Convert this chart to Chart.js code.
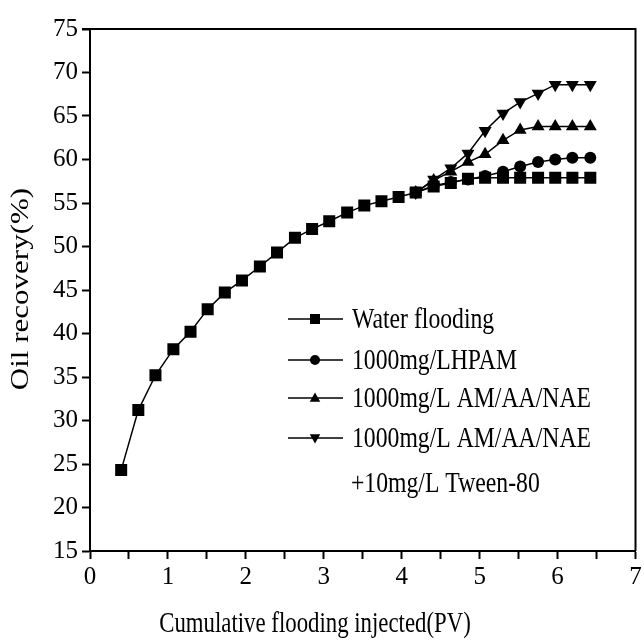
<!DOCTYPE html>
<html>
<head>
<meta charset="utf-8">
<script src="https://cdn.jsdelivr.net/npm/chart.js@4.4.1/dist/chart.umd.min.js"></script>
<style>
  html, body { margin: 0; padding: 0; background: #fff; }
  #wrap { width: 644px; height: 641px; }
</style>
</head>
<body>
<div id="wrap"><canvas id="recoveryChart"></canvas></div>
<script>
// injected pore volumes (PV)
const pv = [0.40, 0.62, 0.84, 1.07, 1.29, 1.51, 1.73, 1.95, 2.18, 2.40,
            2.63, 2.85, 3.07, 3.30, 3.52, 3.74, 3.96, 4.18, 4.41, 4.63,
            4.85, 5.07, 5.30, 5.52, 5.75, 5.97, 6.19, 6.42];

// oil recovery (%)
const water = [24.3, 31.2, 35.2, 38.2, 40.2, 42.8, 44.7, 46.1, 47.7, 49.3,
               51.0, 52.0, 52.9, 53.9, 54.7, 55.2, 55.7, 56.2, 56.9, 57.3,
               57.8, 57.9, 57.9, 57.9, 57.9, 57.9, 57.9, 57.9];
// the chemical slugs branch off the water curve at pv[17]
const slugStart = 17;
const hpam  = [56.2, 57.0, 57.4, 57.7, 58.1, 58.6, 59.2, 59.7, 60.0, 60.2, 60.2];
const nae   = [56.2, 57.6, 58.6, 59.7, 60.6, 62.2, 63.4, 63.8, 63.8, 63.8, 63.8];
const tween = [56.2, 57.7, 59.0, 60.7, 63.3, 65.3, 66.6, 67.6, 68.6, 68.6, 68.6];

const seriesNames = ['Water flooding', '1000mg/LHPAM', '1000mg/L AM/AA/NAE', '1000mg/L AM/AA/NAE'];
const legendExtra = '+10mg/L Tween-80';
const xTitle = 'Cumulative flooding injected(PV)';
const yTitle = 'Oil recovery(%)';

const toPts = (ys, from) => ys.map((y, i) => ({ x: pv[from + i], y }));

const serif = "'Liberation Serif', 'Times New Roman', serif";

function squeezed(ctx, text, x, y, sx, align) {
  ctx.save();
  ctx.translate(x, y);
  ctx.scale(sx, 1);
  ctx.textAlign = align;
  ctx.fillText(text, 0, 0);
  ctx.restore();
}

function marker(ctx, style, rot, x, y, r) {
  ctx.beginPath();
  if (style === 'rect') {
    ctx.rect(x - r, y - r, 2 * r, 2 * r);
  } else if (style === 'circle') {
    ctx.arc(x, y, r, 0, Math.PI * 2);
  } else {
    const s = rot ? -1 : 1;
    ctx.moveTo(x, y - s * r * 1.1);
    ctx.lineTo(x + r * 1.05, y + s * r * 0.75);
    ctx.lineTo(x - r * 1.05, y + s * r * 0.75);
    ctx.closePath();
  }
  ctx.fill();
}

const decor = {
  id: 'decor',
  afterDraw(chart) {
    const { ctx, chartArea: a } = chart;
    ctx.save();
    ctx.strokeStyle = '#000';
    ctx.fillStyle = '#000';
    ctx.lineWidth = 2;
    // top and right edges of the frame
    ctx.beginPath();
    ctx.moveTo(a.left - 8, a.top);
    ctx.lineTo(a.right, a.top);
    ctx.lineTo(a.right, a.bottom);
    ctx.stroke();

    // axis titles
    ctx.font = '30px ' + serif;
    ctx.textBaseline = 'alphabetic';
    squeezed(ctx, xTitle, 315, 632, 0.76, 'center');
    ctx.save();
    ctx.translate(22, 289);
    ctx.rotate(-Math.PI / 2);
    ctx.scale(1, 0.78);
    ctx.textAlign = 'center';
    ctx.textBaseline = 'middle';
    ctx.font = '31px ' + serif;
    ctx.fillText(yTitle, 0, 0);
    ctx.restore();

    // legend
    const rows = [319, 360, 398, 438];
    ctx.font = '30px ' + serif;
    ctx.textBaseline = 'middle';
    chart.data.datasets.forEach((ds, i) => {
      const y = rows[i];
      ctx.lineWidth = 1.5;
      ctx.beginPath();
      ctx.moveTo(288, y);
      ctx.lineTo(343, y);
      ctx.stroke();
      marker(ctx, ds.pointStyle, ds.pointRotation, 315, y, 5);
      squeezed(ctx, seriesNames[i], 352, y + 1, 0.79, 'left');
    });
    squeezed(ctx, legendExtra, 351, 484, 0.79, 'left');
    ctx.restore();
  }
};

const lineDs = (label, data, style, radius, rot) => ({
  label, data,
  borderColor: '#000', backgroundColor: '#000',
  borderWidth: 1.5,
  pointStyle: style, pointRadius: radius, pointRotation: rot || 0,
  pointBorderWidth: 0, pointBackgroundColor: '#000',
  tension: 0
});

const axisGrid = {
  display: true, drawOnChartArea: false, drawTicks: true,
  tickLength: 8, tickColor: '#000', tickWidth: 2
};

new Chart(document.getElementById('recoveryChart'), {
  type: 'line',
  data: {
    datasets: [
      lineDs(seriesNames[0], toPts(water, 0), 'rect', 8.5),
      lineDs(seriesNames[1], toPts(hpam, slugStart), 'circle', 6),
      lineDs(seriesNames[2], toPts(nae, slugStart), 'triangle', 7.5),
      lineDs(seriesNames[3], toPts(tween, slugStart), 'triangle', 7.5, 180)
    ]
  },
  options: {
    responsive: true, maintainAspectRatio: false, animation: false,
    layout: { padding: { top: 29, right: 6, left: 0, bottom: 0 } },
    plugins: { legend: { display: false }, tooltip: { enabled: false } },
    scales: {
      x: {
        type: 'linear', min: 0, max: 7,
        grid: axisGrid,
        border: { display: true, color: '#000', width: 2 },
        ticks: {
          stepSize: 0.5, autoSkip: false, maxRotation: 0, padding: 3,
          color: '#000', font: { family: serif, size: 25 },
          callback: v => Number.isInteger(v) ? v : ''
        },
        afterFit: s => { s.height = 90; s.paddingLeft = 0; s.paddingRight = 0; }
      },
      y: {
        min: 15, max: 75,
        grid: axisGrid,
        border: { display: true, color: '#000', width: 2 },
        ticks: {
          stepSize: 5, padding: 4,
          color: '#000', font: { family: serif, size: 25 }
        },
        afterFit: s => { s.width = 90; }
      }
    }
  },
  plugins: [decor]
});
</script>
</body>
</html>
